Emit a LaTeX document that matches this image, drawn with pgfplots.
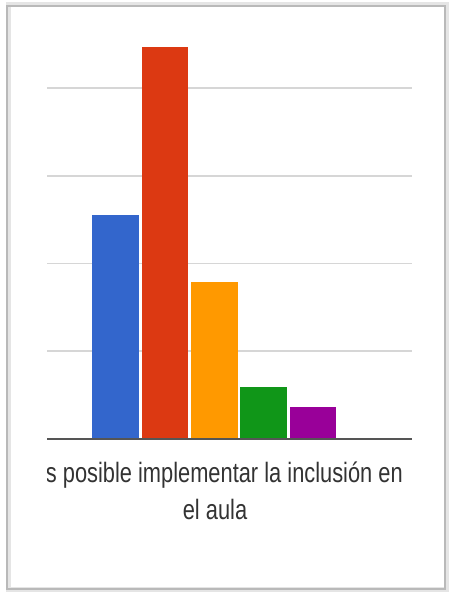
\documentclass[border=0pt]{standalone}
\usepackage{pgfplots}
\pgfplotsset{compat=1.18}
\usepackage{fontspec}
\setmainfont{Liberation Sans}
\definecolor{gblue}{HTML}{3366CC}
\definecolor{gred}{HTML}{DC3912}
\definecolor{gorange}{HTML}{FF9900}
\definecolor{ggreen}{HTML}{109618}
\definecolor{gpurple}{HTML}{990099}
\definecolor{gridc}{HTML}{D6D6D6}
\definecolor{basec}{HTML}{555555}
\definecolor{txt}{HTML}{333333}
\begin{document}
\begin{tikzpicture}[x=1pt,y=1pt]
\useasboundingbox (0,0) rectangle (448,594);
\fill[white] (0,0) rectangle (448,594);
% frame with soft shadow
\draw[gray!20, line width=5pt] (8,4) rectangle (446,589);
\draw[gray!55, line width=1.8pt] (7,5) rectangle (445,588);
\begin{axis}[
  at={(47pt,155pt)}, anchor=south west,
  scale only axis, width=365pt, height=394.875pt,
  xmin=-1.392, xmax=6.010, ymin=0, ymax=45,
  ytick={10,20,30,40}, xtick=\empty,
  yticklabels={}, tick style={draw=none},
  ymajorgrids, grid style={gridc, line width=1.6pt},
  axis line style={draw=none},
  clip=false,
]
\addplot[ybar, bar shift=0pt, bar width=46.5pt, fill=gblue, draw=none] coordinates {(0,25.53)};
\addplot[ybar, bar shift=0pt, bar width=46.5pt, fill=gred, draw=none] coordinates {(1,44.67)};
\addplot[ybar, bar shift=0pt, bar width=46.5pt, fill=gorange, draw=none] coordinates {(2,17.86)};
\addplot[ybar, bar shift=0pt, bar width=46.5pt, fill=ggreen, draw=none] coordinates {(3,5.96)};
\addplot[ybar, bar shift=0pt, bar width=46.5pt, fill=gpurple, draw=none] coordinates {(4,3.68)};
\draw[basec, line width=2.4pt] (rel axis cs:0,0) -- (rel axis cs:1,0);
\end{axis}
\begin{scope}
\clip (47,0) rectangle (448,594);
\node[anchor=base east, inner sep=0pt, text=txt, font=\fontsize{28}{37}\selectfont]
  at (403,111) {\scalebox{0.78}[1]{Es posible implementar la inclusión en}};
\end{scope}
\node[anchor=base, inner sep=0pt, text=txt, font=\fontsize{28}{37}\selectfont]
  at (215,74) {\scalebox{0.78}[1]{el aula}};
\end{tikzpicture}
\end{document}
